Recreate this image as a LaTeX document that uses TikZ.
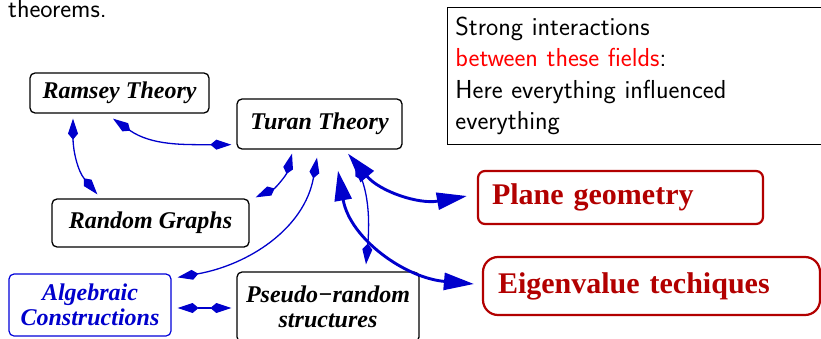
\documentclass[tikz,border=0pt]{standalone}
\usepackage{fontspec}
\usepackage{xcolor}
\newfontfamily\timesrm{Liberation Serif}
\usetikzlibrary{arrows.meta, positioning, calc}

\tikzset{
  field/.style={draw, rounded corners=5pt, line width=1.3pt, align=center, inner sep=0pt,
    font=\timesrm\bfseries\itshape\fontsize{24}{25}\selectfont},
  goal/.style={draw=red!70!black, text=red!70!black, line width=2.2pt, align=left,
    inner ysep=0pt, font=\timesrm\bfseries\fontsize{30}{32}\selectfont},
  link/.style={blue!80!black, line width=1.3pt,
    {Kite[length=21pt,width=10pt,inset=6pt]}-{Kite[length=21pt,width=10pt,inset=6pt]}},
  biglink/.style={blue!80!black, line width=2.9pt,
    {Triangle[length=30pt,width=17pt]}-{Triangle[length=30pt,width=17pt]}}
}

\begin{document}
\begin{tikzpicture}[x=1pt,y=1pt]
\useasboundingbox (0,0) rectangle (821,338);

\node[anchor=base west, inner sep=0pt, font=\sffamily\fontsize{26}{31}\selectfont] (thm) at (8,320) {theorems.};

\node[draw, line width=0.8pt, anchor=north west, minimum width=376pt, minimum height=137pt,
  text width=360pt, inner xsep=8pt, inner ysep=8pt, align=left,
  font=\sffamily\fontsize{26}{31.3}\selectfont] (info) at (447,331) {
  Strong interactions\\
  \textcolor{red}{between these fields}:\\
  Here everything influenced\\
  everything};

\node[field, minimum width=179pt, minimum height=40pt] (ramsey) at (119.5,245) {Ramsey Theory};
\node[field, minimum width=165pt, minimum height=50pt] (turan) at (319.5,214) {Turan Theory};
\node[field, minimum width=197pt, minimum height=48pt] (random) at (150.5,115) {Random Graphs};
\node[field, draw=blue!85!black, text=blue!80!black, line width=1.2pt,
  minimum width=162pt, minimum height=62pt] (algebraic) at (90,33) {Algebraic\\Constructions};
\node[field, minimum width=182pt, minimum height=70pt] (pseudo) at (328,31) {Pseudo−random\\structures};

\node[goal, rounded corners=7pt, inner xsep=14pt, text width=257pt, minimum height=53pt] (plane) at (620.5,140.5) {Plane geometry};
\node[goal, rounded corners=15pt, inner xsep=15pt, text width=307pt, minimum height=58pt] (eigen) at (651.5,52) {Eigenvalue techiques};

\draw[link] ([xshift=-6.5pt,yshift=-5pt]ramsey.south) to[out=-35,in=180] ([xshift=-5pt,yshift=5pt]turan.south west);
\draw[link] ([xshift=-46.5pt,yshift=-5pt]ramsey.south) to[out=-90,in=130] ([xshift=46pt,yshift=4pt]random.north west);
\draw[link] ([xshift=-27.5pt,yshift=-4pt]turan.south) to[out=-105,in=25] ([xshift=6pt,yshift=1pt]random.north east);
\draw[link] ([xshift=-2.5pt,yshift=-8pt]turan.south) to[out=-100,in=10] ([xshift=6pt,yshift=-4pt]algebraic.north east);
\draw[link] ([xshift=6pt,yshift=-3pt]algebraic.east) -- ([xshift=-5pt,yshift=-1pt]pseudo.west);
\draw[link] ([xshift=35.5pt,yshift=-11pt]turan.south) to[out=-70,in=85] ([xshift=38pt,yshift=7pt]pseudo.north);
\draw[biglink] ([xshift=28.5pt,yshift=-4pt]turan.south) to[out=-50,in=190] ([xshift=-10pt,yshift=1.5pt]plane.west);
\draw[biglink] ([xshift=18.5pt,yshift=-21pt]turan.south) to[out=-80,in=175] ([xshift=-8pt,yshift=2pt]eigen.west);
\end{tikzpicture}
\end{document}
